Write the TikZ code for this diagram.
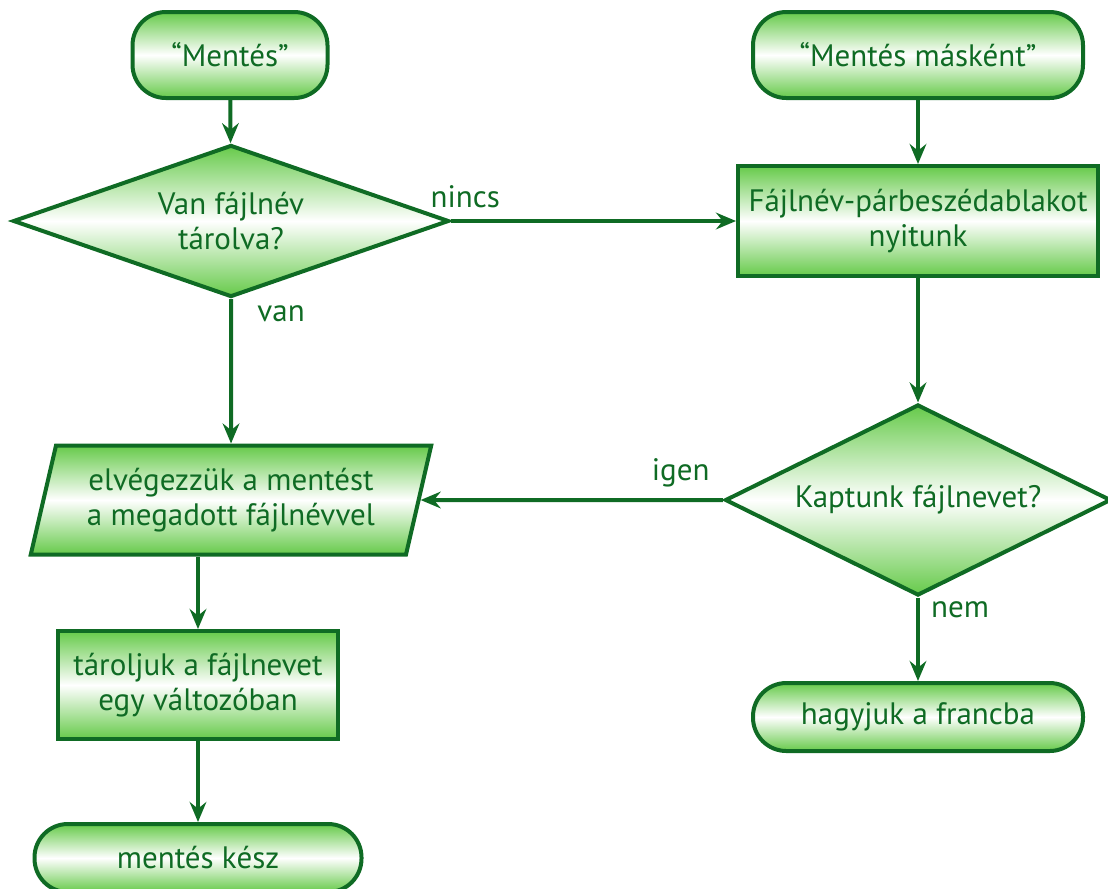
\documentclass[tikz,border=0pt]{standalone}
\usepackage{fontspec}
\setmainfont{PT Sans}
\usepackage{tikz}
\usetikzlibrary{shapes.geometric, arrows.meta}
\definecolor{dkgreen}{HTML}{0F6B24}
\definecolor{ltgreen}{HTML}{66CA4A}

\begin{document}
\begin{tikzpicture}[
    x=0.3pt, y=-0.3pt,
    base/.style={draw=dkgreen, line width=1.2pt, text=dkgreen,
        top color=ltgreen, bottom color=ltgreen, middle color=white,
        align=center, inner sep=0pt, font=\fontsize{9.3}{10.5}\selectfont},
    term/.style={base, rectangle, rounded corners=10pt},
    proc/.style={base, rectangle},
    decision/.style={base, diamond},
    io/.style={base, trapezium, trapezium left angle=72,
        trapezium right angle=108, trapezium stretches=true},
    arr/.style={-{Stealth[length=6pt, width=5pt, inset=2pt]}, line width=1.2pt, dkgreen},
    lbl/.style={text=dkgreen, font=\fontsize{9.3}{10.5}\selectfont}
]
\useasboundingbox (0,0) rectangle (1108,888);

\node[term, minimum width=58.5pt, minimum height=25.8pt] (start1) at (230,55) {“Mentés”};
\node[decision, aspect=2.87, minimum width=130.8pt, minimum height=45.6pt] (dec1) at (231,221) {Van fájlnév\\tárolva?};
\node[io, minimum width=120.3pt, minimum height=32.7pt] (save) at (231,500) {elvégezzük a mentést\\a megadott fájlnévvel};
\node[proc, minimum width=84pt, minimum height=32.4pt] (store) at (198,685) {tároljuk a fájlnevet\\egy változóban};
\node[term, minimum width=98.1pt, minimum height=20.4pt] (stop1) at (198,858) {mentés kész};

\node[term, minimum width=99pt, minimum height=25.8pt] (start2) at (918,55) {“Mentés másként”};
\node[proc, minimum width=108pt, minimum height=33pt] (dialog) at (918,221) {Fájlnév-párbeszédablakot\\nyitunk};
\node[decision, aspect=2.02, minimum width=115.8pt, minimum height=57.3pt] (dec2) at (918,500) {Kaptunk fájlnevet?};
\node[term, minimum width=99pt, minimum height=20.4pt] (stop2) at (918,717) {hagyjuk a francba};

\draw[arr] (start1) -- (dec1);
\draw[arr] (dec1) -- node[lbl, right, pos=0.1, xshift=4pt] {van} (save);
\draw[arr] (dec1) -- node[lbl, above, pos=0.05] {nincs} (dialog);
\draw[arr] (start2) -- (dialog);
\draw[arr] (dialog) -- (dec2);
\draw[arr] (dec2) -- node[lbl, above, pos=0.14] {igen} (save);
\draw[arr] (dec2) -- node[lbl, right, pos=0.15] {nem} (stop2);
\draw[arr] (save.south -| store) -- (store);
\draw[arr] (store) -- (stop1);
\end{tikzpicture}
\end{document}
